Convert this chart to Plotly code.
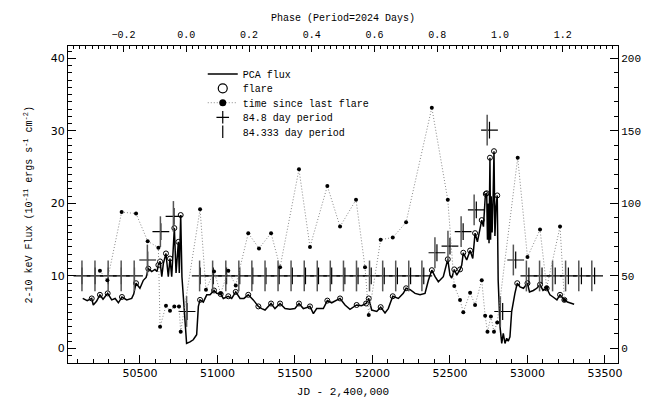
import plotly.graph_objects as go

# ---------------- data ----------------
flux_jd = [50131, 50160, 50189, 50199, 50220, 50242, 50262, 50292, 50318, 50340, 50361, 50384,
           50415, 50447, 50460, 50475, 50500, 50522, 50540, 50554, 50576, 50597, 50610, 50619,
           50630, 50641, 50651, 50668, 50683, 50694, 50705, 50722, 50733, 50748, 50754, 50763,
           50771, 50784, 50797, 50801, 50823, 50844, 50866, 50877, 50888, 50909, 50931, 50952,
           50978, 50995, 51021, 51038, 51070, 51092, 51118, 51146, 51171, 51199, 51231, 51264,
           51286, 51307, 51346, 51371, 51404, 51436, 51468, 51500, 51526, 51554, 51597, 51619,
           51640, 51683, 51709, 51737, 51791, 51823, 51855, 51898, 51930, 51959, 51976, 51995,
           52028, 52053, 52081, 52102, 52131, 52167, 52199, 52217, 52243, 52275, 52307, 52339,
           52361, 52383, 52404, 52425, 52457, 52486, 52500, 52511, 52528, 52544, 52565, 52576,
           52586, 52608, 52630, 52647, 52662, 52677, 52705, 52716, 52727, 52731, 52737, 52742,
           52748, 52752, 52758, 52762, 52766, 52772, 52778, 52784, 52790, 52797, 52805, 52811,
           52823, 52834, 52844, 52855, 52866, 52876, 52887, 52898, 52919, 52934, 52952, 52974,
           53000, 53013, 53038, 53060, 53081, 53100, 53124, 53145, 53165, 53190, 53210, 53238,
           53258, 53280, 53301]
flux_val = [6.9, 6.6, 6.9, 6.0, 6.5, 7.4, 6.8, 7.6, 6.7, 6.9, 6.3, 7.1,
            6.7, 6.9, 7.5, 9.0, 8.3, 9.4, 9.8, 11.0, 10.6, 10.9, 10.6, 11.5,
            12.0, 9.9, 11.7, 13.1, 9.9, 12.4, 9.9, 16.6, 10.4, 14.7, 10.4, 18.4,
            9.9, 6.2, 1.6, 0.7, 0.9, 1.2, 1.9, 5.8, 6.7, 6.4, 7.4, 7.4,
            8.0, 7.6, 7.5, 6.9, 7.2, 6.9, 7.8, 6.9, 6.9, 7.4, 6.7, 5.8,
            5.5, 5.3, 6.2, 5.5, 6.2, 5.5, 5.4, 5.5, 6.2, 5.5, 5.8, 4.8,
            5.5, 5.5, 6.6, 6.3, 6.9, 6.0, 5.4, 6.0, 5.9, 6.2, 6.9, 5.3,
            5.1, 5.7, 4.9, 5.5, 7.2, 6.9, 7.6, 8.3, 8.1, 7.6, 7.4, 7.6,
            9.4, 10.8, 9.9, 9.2, 9.9, 12.3, 10.1, 9.7, 10.9, 10.1, 10.9, 11.5,
            13.2, 12.2, 13.5, 12.4, 15.9, 14.7, 17.7, 16.8, 20.7, 21.3, 21.4, 15.0,
            20.0, 14.5, 26.3, 15.0, 21.0, 16.0, 20.5, 27.2, 15.5, 19.5, 21.1, 9.4,
            3.0, 0.7, 2.1, 0.7, 1.4, 1.0, 1.6, 5.1, 7.6, 9.0, 8.5, 8.3,
            9.0, 7.8, 8.0, 8.3, 8.8, 8.0, 8.3, 7.4, 7.1, 6.7, 7.4, 6.7,
            6.4, 6.2, 6.1]

flare_jd = [50189, 50242, 50292, 50384, 50475, 50554, 50619, 50630, 50668, 50694, 50722, 50748,
            50763, 50888, 50978, 51021, 51070, 51118, 51199, 51264, 51346, 51404, 51526, 51597,
            51709, 51791, 51898, 51959, 51976, 52053, 52131, 52217, 52383, 52486, 52528, 52565,
            52586, 52630, 52662, 52705, 52731, 52737, 52758, 52784, 52805, 52934, 53000, 53081,
            53124, 53210, 53238]
flare_flux = [6.9, 7.4, 7.6, 7.1, 9.0, 11.0, 11.5, 12.0, 13.1, 12.4, 16.6, 14.7,
              18.4, 6.7, 8.0, 7.5, 7.2, 7.8, 7.4, 5.8, 6.2, 6.2, 6.2, 5.8,
              6.6, 6.9, 6.0, 6.2, 6.9, 5.7, 7.2, 8.3, 10.8, 12.3, 10.9, 10.9,
              13.2, 13.5, 15.9, 17.7, 21.3, 21.4, 26.3, 27.2, 21.1, 9.0, 9.0, 8.8,
              8.3, 7.4, 6.7]

# time since last flare (days, right axis)
wait_jd = [50242, 50290, 50382, 50475, 50550, 50619, 50630, 50668, 50694, 50722, 50752, 50763,
           50888, 50926, 50978, 51021, 51070, 51118, 51199, 51268, 51346, 51404, 51526, 51597,
           51709, 51791, 51894, 51952, 51976, 52053, 52131, 52217, 52383, 52486, 52528, 52565,
           52586, 52630, 52662, 52705, 52727, 52742, 52764, 52784, 52805, 52937, 53000, 53081,
           53124, 53210, 53238]
wait_days = [53.5, 47.0, 94.0, 93.0, 74.0, 69.5, 15.0, 29.5, 26.0, 29.0, 29.0, 11.5,
             96.0, 40.5, 53.0, 38.0, 53.5, 43.5, 79.5, 69.0, 79.5, 56.0, 123.5, 70.0,
             112.0, 84.0, 102.5, 56.0, 23.0, 75.0, 76.5, 87.0, 166.0, 102.5, 43.0, 33.5,
             25.0, 38.5, 30.0, 47.0, 22.5, 11.5, 22.0, 11.5, 18.0, 131.5, 63.0, 82.0,
             42.0, 84.0, 33.5]

# 84.8 day and 84.333 day period markers
p848_jd = [50126, 50211, 50296, 50380, 50465, 50550, 50635, 50720, 50804, 50889,
           50974, 51059, 51144, 51228, 51313, 51398, 51483, 51568, 51652, 51737,
           51822, 51907, 51992, 52076, 52161, 52246, 52331, 52416, 52500, 52585,
           52670, 52755, 52840, 52924, 53009, 53094, 53179, 53264, 53348, 53433]
p843_jd = [50126, 50210, 50295, 50379, 50463, 50548, 50632, 50716, 50801, 50885,
           50969, 51054, 51138, 51222, 51307, 51391, 51475, 51560, 51644, 51728,
           51813, 51897, 51981, 52066, 52150, 52234, 52319, 52403, 52487, 52572,
           52656, 52740, 52825, 52909, 52993, 53078, 53162, 53246, 53331, 53415]
period_flux = [10, 10, 10, 10, 10, 12.2, 16.1, 18.2, 5.1, 10,
               10, 10, 10, 10, 10, 10, 10, 10, 10, 10,
               10, 10, 10, 10, 10, 10, 10, 13.2, 14.1, 16.1,
               19.1, 30.1, 5.1, 12.2, 10, 10, 10, 10, 10, 10]

legend_names = ["PCA flux", "flare", "time since last flare", "84.8 day period", "84.333 day period"]

jd_range = [50036, 53584]
phase_range = [-0.377, 1.376]
flux_range = [-2.0, 41.7]
days_range = [-10.0, 208.5]

MONO = "Liberation Mono"
SANS = "DejaVu Sans"

fig = go.Figure()

# data traces
fig.add_trace(go.Scatter(x=flux_jd, y=flux_val, mode="lines", showlegend=False,
                         line=dict(color="black", width=1.5)))
fig.add_trace(go.Scatter(x=flare_jd, y=flare_flux, mode="markers", showlegend=False,
                         marker=dict(symbol="circle-open", size=5, color="black",
                                     line=dict(width=1, color="black"))))
fig.add_trace(go.Scatter(x=wait_jd, y=wait_days, mode="lines+markers", showlegend=False,
                         yaxis="y2",
                         line=dict(color="#888888", width=1, dash="1px,2px"),
                         marker=dict(symbol="circle", size=4, color="black")))
fig.add_trace(go.Scatter(x=p848_jd, y=period_flux, mode="markers", showlegend=False,
                         marker=dict(symbol="cross-thin", size=12, color="black",
                                     line=dict(width=1.2, color="black"))))
fig.add_trace(go.Scatter(x=p843_jd, y=period_flux, mode="markers", showlegend=False,
                         marker=dict(symbol="line-ns", size=22, color="#555555",
                                     line=dict(width=1.5, color="#555555"))))

# legend-only entries (no data)
fig.add_trace(go.Scatter(x=[None], y=[None], mode="lines", name=legend_names[0],
                         line=dict(color="black", width=1.5), legend="legend"))
fig.add_trace(go.Scatter(x=[None], y=[None], mode="markers", name=legend_names[1],
                         marker=dict(symbol="circle-open", size=9, color="black",
                                     line=dict(width=1.2, color="black")), legend="legend2"))
fig.add_trace(go.Scatter(x=[None], y=[None], mode="lines+markers", name=legend_names[2],
                         line=dict(color="#888888", width=1, dash="1px,2px"),
                         marker=dict(symbol="circle", size=7, color="black"), legend="legend3"))
fig.add_trace(go.Scatter(x=[None], y=[None], mode="markers", name=legend_names[3],
                         marker=dict(symbol="cross-thin", size=9, color="black",
                                     line=dict(width=1.2, color="black")), legend="legend4"))
fig.add_trace(go.Scatter(x=[None], y=[None], mode="markers", name=legend_names[4],
                         marker=dict(symbol="line-ns", size=9, color="black",
                                     line=dict(width=1.2, color="black")), legend="legend5"))

# phase axis helper (invisible)
fig.add_trace(go.Scatter(x=phase_range, y=[None, None], xaxis="x2", yaxis="y",
                         mode="lines", showlegend=False, hoverinfo="skip"))

axis_common = dict(showline=True, linecolor="black", linewidth=1, ticks="inside",
                   tickcolor="black", showgrid=False, zeroline=False, automargin=False)

fig.update_layout(
    width=647, height=402,
    margin=dict(l=68, r=29, t=46, b=39),
    paper_bgcolor="white", plot_bgcolor="white",
    xaxis=dict(range=jd_range, tick0=50000, dtick=500, ticklen=8, tickformat="d",
               minor=dict(dtick=100, ticklen=4, ticks="inside", tickcolor="black"),
               tickfont=dict(family=SANS, size=11, color="black"),
               title=dict(text="JD - 2,400,000", font=dict(family=MONO, size=11, color="black"),
                          standoff=8),
               **axis_common),
    xaxis2=dict(range=phase_range, overlaying="x", side="top", anchor="y",
                tick0=0, dtick=0.2, tickformat=".1f", ticklen=6, ticklabelstandoff=3,
                minor=dict(dtick=0.02, ticklen=3, ticks="inside", tickcolor="black"),
                tickfont=dict(family=MONO, size=10, color="black"),
                **axis_common),
    yaxis=dict(range=flux_range, tick0=0, dtick=10, ticklen=8,
               minor=dict(dtick=1, ticklen=4, ticks="inside", tickcolor="black"),
               tickfont=dict(family=SANS, size=11, color="black"),
               **axis_common),
    yaxis2=dict(range=days_range, overlaying="y", side="right", anchor="x",
                tick0=0, dtick=50, ticklen=8,
                minor=dict(dtick=10, ticklen=4, ticks="inside", tickcolor="black"),
                tickfont=dict(family=MONO, size=11, color="black"),
                **axis_common),
    annotations=[
        dict(text="2-10 keV Flux (10<sup>-11</sup> ergs s<sup>-1</sup> cm<sup>-2</sup>)",
             xref="paper", yref="paper", x=-0.0727, y=0.5, textangle=-90,
             xanchor="center", yanchor="middle", showarrow=False,
             font=dict(family=MONO, size=10, color="black")),
        dict(text="Phase (Period=2024 Days)",
             xref="paper", yref="paper", x=0.5, y=1.0883,
             xanchor="center", yanchor="middle", showarrow=False,
             font=dict(family=MONO, size=10, color="black")),
    ],
)

leg_rows = [0.9117, 0.8666, 0.8211, 0.7751, 0.7297]
names = ["legend", "legend2", "legend3", "legend4", "legend5"]
for nm, yy in zip(names, leg_rows):
    fig.update_layout({nm: dict(x=0.245, y=yy, xanchor="left", yanchor="middle",
                                bgcolor="rgba(0,0,0,0)", borderwidth=0,
                                itemsizing="trace",
                                font=dict(family=MONO, size=10, color="black"))})

fig.write_html("out.html")
